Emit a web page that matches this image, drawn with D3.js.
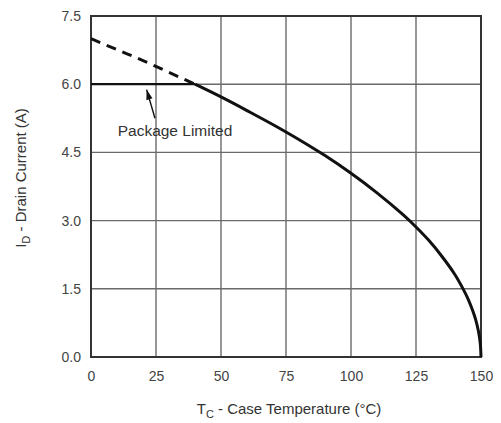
<!DOCTYPE html>
<html>
<head>
<meta charset="utf-8">
<script src="https://cdn.jsdelivr.net/npm/d3@7"></script>
<style>
  body { margin: 0; background: #fff; }
  text { font-family: "Liberation Sans", Arial, sans-serif; fill: #333; }
</style>
</head>
<body>
<svg id="chart" width="501" height="423"></svg>
<script>
'use strict';

// values
let xTicks = [0, 25, 50, 75, 100, 125, 150];
let yTicks = [0, 1.5, 3.0, 4.5, 6.0, 7.5];

// dashed, extrapolated part above the package limit
let dashedPts = [[0, 7.0], [10, 6.76], [20, 6.52], [30, 6.26], [40, 6.0]];
// solid package-limited line
let limitPts = [[0, 6.0], [40, 6.0]];
// derating curve
let curvePts = [[40, 6.0], [50, 5.72], [60, 5.42], [75, 4.95], [90, 4.43],
                [100, 4.04], [110, 3.61], [120, 3.13], [125, 2.86], [130, 2.56],
                [135, 2.21], [140, 1.81], [143, 1.51], [145, 1.28], [147, 0.99],
                [148, 0.81], [149, 0.57], [149.7, 0.31], [150, 0]];

let labelText = "Package Limited";

function getChartConfig() {
    let margin = { top: 16, right: 20, bottom: 66, left: 91 },
        width = 501 - margin.left - margin.right,
        height = 423 - margin.top - margin.bottom;

    let svg = d3.select("#chart");
    let container = svg.append("g")
        .attr("transform", "translate(" + margin.left + "," + margin.top + ")");

    return { width, height, container, margin, svg };
}

function getScales(config) {
    let xScale = d3.scaleLinear().domain([0, 150]).range([0, config.width]);
    let yScale = d3.scaleLinear().domain([0, 7.5]).range([config.height, 0]);
    return { xScale, yScale };
}

function drawGrid(config, scales) {
    let { container, width, height } = config;
    let { xScale, yScale } = scales;

    container.selectAll(".vgrid").data(xTicks).enter()
        .append("line")
        .attr("class", "vgrid")
        .attr("x1", d => xScale(d)).attr("x2", d => xScale(d))
        .attr("y1", 0).attr("y2", height)
        .style("stroke", "#6a6a6a")
        .style("stroke-width", 1.4);

    container.selectAll(".hgrid").data(yTicks).enter()
        .append("line")
        .attr("class", "hgrid")
        .attr("y1", d => yScale(d)).attr("y2", d => yScale(d))
        .attr("x1", 0).attr("x2", width)
        .style("stroke", "#6a6a6a")
        .style("stroke-width", 1.4);

    // frame
    container.append("rect")
        .attr("width", width).attr("height", height)
        .style("fill", "none")
        .style("stroke", "#333")
        .style("stroke-width", 2);
}

function drawAxis(config, scales) {
    let { container, width, height } = config;
    let { xScale, yScale } = scales;

    let xAxis = d3.axisBottom(xScale).tickValues(xTicks).tickSize(0).tickPadding(14)
        .tickFormat(d => d);
    let gx = container.append("g")
        .attr("transform", "translate(0," + height + ")")
        .call(xAxis);
    gx.select(".domain").remove();
    gx.selectAll("text").style("font-size", "14px").style("fill", "#444")
        .attr("font-family", null);

    let yAxis = d3.axisLeft(yScale).tickValues(yTicks).tickSize(0).tickPadding(10)
        .tickFormat(d3.format(".1f"));
    let gy = container.append("g").call(yAxis);
    gy.select(".domain").remove();
    gy.selectAll("text").style("font-size", "14px").style("fill", "#444")
        .attr("font-family", null);

    // x title with subscript
    let xt = container.append("text")
        .attr("x", width / 2 + 3)
        .attr("y", height + 57)
        .style("text-anchor", "middle")
        .style("font-size", "15px");
    xt.append("tspan").text("T");
    xt.append("tspan").attr("dy", 4).style("font-size", "11px").text("C");
    xt.append("tspan").attr("dy", -4).text(" - Case Temperature (°C)");

    // y title with subscript
    let yt = container.append("text")
        .attr("transform", "rotate(-90)")
        .attr("x", -162)
        .attr("y", -65)
        .style("text-anchor", "middle")
        .style("font-size", "15px");
    yt.append("tspan").text("I");
    yt.append("tspan").attr("dy", 4).style("font-size", "11px").text("D");
    yt.append("tspan").attr("dy", -4).text(" - Drain Current (A)");
}

function drawCurves(config, scales) {
    let { container } = config;
    let { xScale, yScale } = scales;

    let line = d3.line()
        .x(d => xScale(d[0]))
        .y(d => yScale(d[1]))
        .curve(d3.curveMonotoneX);

    container.append("path")
        .datum(dashedPts)
        .attr("d", line)
        .style("fill", "none")
        .style("stroke", "#111")
        .style("stroke-width", 3)
        .style("stroke-dasharray", "10,7");

    container.append("path")
        .datum(limitPts)
        .attr("d", d3.line().x(d => xScale(d[0])).y(d => yScale(d[1])))
        .style("fill", "none")
        .style("stroke", "#111")
        .style("stroke-width", 2.2);

    let curveLine = d3.line()
        .x(d => xScale(d[0]))
        .y(d => yScale(d[1]))
        .curve(d3.curveCatmullRom);

    container.append("path")
        .datum(curvePts)
        .attr("d", curveLine)
        .style("fill", "none")
        .style("stroke", "#111")
        .style("stroke-width", 3);
}

function drawLabel(config, scales) {
    let { container } = config;
    let { xScale, yScale } = scales;

    container.append("text")
        .attr("x", xScale(32.3))
        .attr("y", yScale(4.85))
        .style("text-anchor", "middle")
        .style("font-size", "15.5px")
        .text(labelText);

    // arrow from label up to the limit line
    let x1 = xScale(24.6), y1 = yScale(5.25);
    let x2 = xScale(21.4), y2 = yScale(5.88);
    container.append("line")
        .attr("x1", x1).attr("y1", y1)
        .attr("x2", x2).attr("y2", y2)
        .style("stroke", "#111")
        .style("stroke-width", 1.4);

    let ang = Math.atan2(y2 - y1, x2 - x1);
    let len = 10, w = 3.2;
    let bx = x2 - len * Math.cos(ang), by = y2 - len * Math.sin(ang);
    let px = -Math.sin(ang) * w, py = Math.cos(ang) * w;
    container.append("path")
        .attr("d", `M${x2},${y2}L${bx + px},${by + py}L${bx - px},${by - py}Z`)
        .style("fill", "#111");
}

function drawChart() {
    let config = getChartConfig();
    let scales = getScales(config);
    drawGrid(config, scales);
    drawAxis(config, scales);
    drawCurves(config, scales);
    drawLabel(config, scales);
}

drawChart();
</script>
</body>
</html>
